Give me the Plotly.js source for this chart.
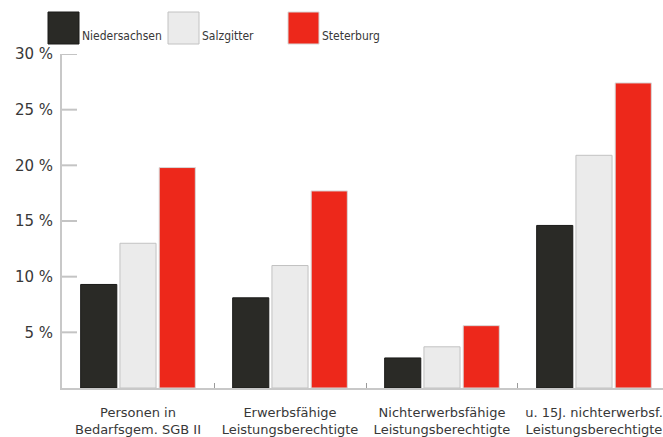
<!DOCTYPE html>
<html>
<head>
<meta charset="utf-8">
<script src="https://cdn.plot.ly/plotly-3.0.1.min.js"></script>
<style>
  html, body { margin: 0; padding: 0; background: #fff; }
  #chart { width: 663px; height: 437px; }
</style>
</head>
<body>
<div id="chart"></div>
<script>
// Anteil der Leistungsberechtigten nach SGB II (in %)
const categories = [
  "Personen in<br>Bedarfsgem. SGB II",
  "Erwerbsfähige<br>Leistungsberechtigte",
  "Nichterwerbsfähige<br>Leistungsberechtigte",
  "u. 15J. nichterwerbsf.<br>Leistungsberechtigte"
];
const seriesNames = ["Niedersachsen", "Salzgitter", "Steterburg"];
const niedersachsen = [9.3, 8.1, 2.7, 14.6];
const salzgitter = [13.0, 11.0, 3.7, 20.9];
const steterburg = [19.8, 17.7, 5.6, 27.4];
const yTickVals = [5, 10, 15, 20, 25, 30];
const yTickText = ["5 %", "10 %", "15 %", "20 %", "25 %", "30 %"];

const fills = ["#2a2a26", "#ebebeb", "#ed281b"];
const outlines = ["#1a1a18", "#c2c2c2", "#d8d8d8"];
const values = [niedersachsen, salzgitter, steterburg];

const sansFont = "'DejaVu Sans', Arial, sans-serif";
const narrowFont = "'DejaVu Sans Condensed', 'DejaVu Sans', Arial, sans-serif";
const textColor = "#383838";

const traces = seriesNames.map((name, i) => ({
  type: "bar",
  name: name,
  x: categories,
  y: values[i],
  marker: { color: fills[i], line: { color: outlines[i], width: 1 } },
  hoverinfo: "name+y"
}));

const shapes = [];
const annotations = [];

// Short tick marks pointing into the plot from the value axis
yTickVals.forEach(v => {
  shapes.push({
    type: "line", layer: "below",
    xref: "paper", xsizemode: "pixel", xanchor: 0,
    x0: 0, x1: 15,
    yref: "y", y0: v, y1: v,
    line: { color: "#c4c4c4", width: 2 }
  });
});

// Custom legend: large swatches with labels above the plot
seriesNames.forEach((name, i) => {
  const left = -14 + i * 120;
  shapes.push({
    type: "rect", xref: "paper", yref: "paper",
    xsizemode: "pixel", ysizemode: "pixel",
    xanchor: 0, yanchor: 1,
    x0: left, x1: left + 31, y0: 10, y1: 42,
    fillcolor: fills[i], line: { color: outlines[i], width: 1 }
  });
  annotations.push({
    xref: "paper", yref: "paper", x: 0, y: 1,
    xanchor: "left", yanchor: "middle",
    xshift: left + 32, yshift: 18,
    text: name, showarrow: false,
    font: { family: narrowFont, size: 12, color: textColor }
  });
});

const layout = {
  width: 663, height: 437,
  margin: { l: 62, r: 0, t: 54, b: 49, pad: 0 },
  paper_bgcolor: "#ffffff", plot_bgcolor: "#ffffff",
  showlegend: false,
  barmode: "group",
  bargap: 0.225,
  bargroupgap: 0.08,
  xaxis: {
    type: "category",
    range: [-0.5, 3.454],
    showline: true, linecolor: "#c8c8c8", linewidth: 2,
    ticks: "inside", tickson: "boundaries", ticklen: 5,
    tickcolor: "#9a9a9a", tickwidth: 1,
    showgrid: false, zeroline: false,
    automargin: false,
    ticklabelstandoff: 11,
    tickfont: { family: sansFont, size: 13, color: textColor }
  },
  yaxis: {
    range: [0, 30],
    tickmode: "array",
    tickvals: yTickVals, ticktext: yTickText,
    showline: true, linecolor: "#c8c8c8", linewidth: 2,
    ticks: "",
    showgrid: false, zeroline: false,
    automargin: false,
    ticklabelstandoff: 4,
    tickfont: { family: sansFont, size: 15, color: textColor }
  },
  shapes: shapes,
  annotations: annotations
};

Plotly.newPlot("chart", traces, layout, { displayModeBar: false, staticPlot: true });
</script>
</body>
</html>
